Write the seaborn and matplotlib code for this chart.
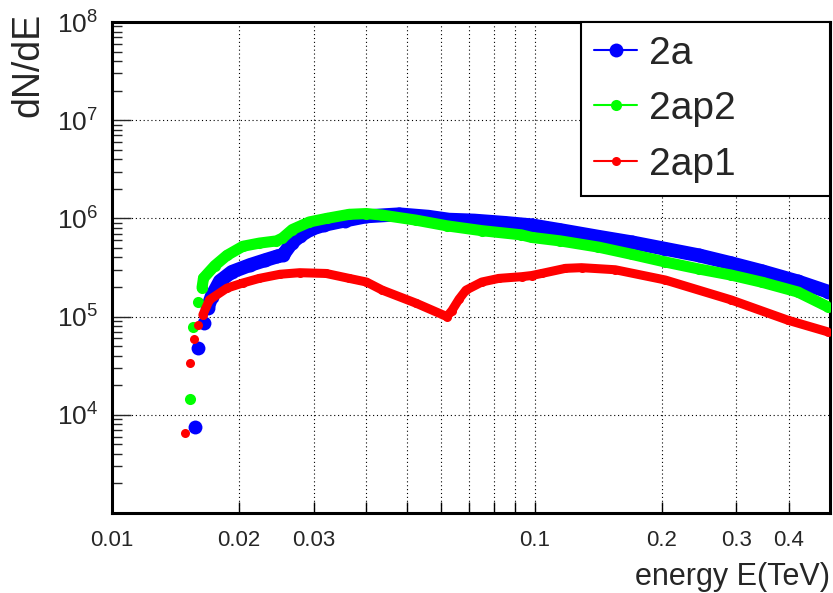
import matplotlib
matplotlib.use("Agg")
import matplotlib.pyplot as plt
import seaborn as sns
from matplotlib.lines import Line2D
from matplotlib.ticker import LogLocator, NullFormatter

# values (energy in TeV, dN/dE)
e_2a = [0.0157, 0.0160, 0.01648, 0.01684, 0.0172, 0.0180, 0.0192, 0.0212, 0.0230,
        0.0246, 0.0254, 0.0266, 0.0278, 0.0296, 0.0318, 0.0355, 0.0400, 0.0478,
        0.0560, 0.0627, 0.0720, 0.0850, 0.0984, 0.115, 0.1416, 0.170, 0.2037,
        0.245, 0.2915, 0.345, 0.4195, 0.4936]
n_2a = [7.5e3, 4.8e4, 8.6e4, 1.22e5, 1.6e5, 2.3e5, 2.85e5, 3.35e5, 3.75e5,
        4.1e5, 4.25e5, 5.6e5, 6.6e5, 7.8e5, 8.6e5, 9.5e5, 1.05e6, 1.10e6,
        1.04e6, 9.7e5, 9.5e5, 9.0e5, 8.5e5, 7.6e5, 6.5e5, 5.7e5, 4.9e5,
        4.2e5, 3.5e5, 2.9e5, 2.28e5, 1.8e5]

e_2ap2 = [0.01527, 0.01555, 0.0160, 0.01633, 0.01646, 0.0175, 0.0187, 0.0204, 0.0223,
          0.0245, 0.0253, 0.0267, 0.0293, 0.0322, 0.0364, 0.0400, 0.0436, 0.0524,
          0.0620, 0.0750, 0.0930, 0.0984, 0.115, 0.1416, 0.170, 0.2037, 0.245,
          0.2915, 0.345, 0.4195, 0.4936]
n_2ap2 = [1.45e4, 7.8e4, 1.41e5, 1.97e5, 2.47e5, 3.3e5, 4.2e5, 5.2e5, 5.6e5,
          5.9e5, 6.3e5, 7.7e5, 9.2e5, 1.0e6, 1.1e6, 1.12e6, 1.08e6, 9.6e5,
          8.4e5, 7.5e5, 6.8e5, 6.4e5, 5.9e5, 5.1e5, 4.3e5, 3.6e5, 3.05e5,
          2.65e5, 2.24e5, 1.78e5, 1.26e5]

e_2ap1 = [0.01486, 0.01527, 0.01563, 0.0160, 0.0164, 0.0170, 0.0187, 0.0204, 0.0223,
          0.0250, 0.0278, 0.0321, 0.0364, 0.0400, 0.0436, 0.0524, 0.0620, 0.0637,
          0.0662, 0.0688, 0.0750, 0.0823, 0.0932, 0.0984, 0.1039, 0.1183, 0.1291,
          0.1552, 0.2037, 0.2915, 0.3972, 0.4936]
n_2ap1 = [6.6e3, 3.4e4, 5.9e4, 8.2e4, 1.04e5, 1.48e5, 1.95e5, 2.2e5, 2.45e5,
          2.7e5, 2.8e5, 2.75e5, 2.45e5, 2.25e5, 1.86e5, 1.37e5, 1.0e5, 1.15e5,
          1.5e5, 1.86e5, 2.25e5, 2.45e5, 2.55e5, 2.62e5, 2.75e5, 3.1e5, 3.15e5,
          3.0e5, 2.36e5, 1.48e5, 9.2e4, 7.0e4]

x_major = [0.01, 0.02, 0.03, 0.1, 0.2, 0.3, 0.4]
x_major_labels = ["0.01", "0.02", "0.03", "0.1", "0.2", "0.3", "0.4"]
x_minor = [0.04, 0.05, 0.06, 0.07, 0.08, 0.09]
y_ticks = [1e4, 1e5, 1e6, 1e7, 1e8]
y_tick_labels = [r"$\mathregular{10^{%d}}$" % p for p in range(4, 9)]

sns.set_style("white")
plt.rcParams["font.family"] = ["Liberation Sans", "DejaVu Sans"]

fig = plt.figure(figsize=(8.33, 5.93), dpi=100)
ax = fig.add_axes([0.1345, 0.1349, 0.8619, 0.828])

# (label, x, y, colour, marker size pt, number of isolated first points, zorder)
series = [
    ("2a", e_2a, n_2a, "#0000ff", 10.0, 4, 2),
    ("2ap2", e_2ap2, n_2ap2, "#00ff00", 8.0, 4, 3),
    ("2ap1", e_2ap1, n_2ap1, "#ff0000", 6.5, 5, 4),
]

handles = []
for label, xs, ys, col, ms, n_iso, z in series:
    # dense run of markers drawn as a thick band
    sns.lineplot(x=xs[n_iso - 1:], y=ys[n_iso - 1:], ax=ax, color=col, linewidth=ms,
                 estimator=None, sort=False, solid_capstyle="round",
                 solid_joinstyle="round", zorder=z)
    sns.scatterplot(x=xs, y=ys, ax=ax, color=col, s=ms ** 2, linewidth=0, zorder=z)
    handles.append(Line2D([0], [0], color=col, lw=1.5, marker="o", markersize=ms,
                          markeredgewidth=0, label=label))

ax.set_xscale("log")
ax.set_yscale("log")
ax.set_xlim(0.01, 0.5)
ax.set_ylim(1e3, 1e8)

ax.set_xticks(x_major)
ax.set_xticklabels(x_major_labels, fontsize=16)
ax.set_xticks(x_minor, minor=True)
ax.xaxis.set_minor_formatter(NullFormatter())
ax.set_yticks(y_ticks)
ax.set_yticklabels(y_tick_labels, fontsize=19)
ax.yaxis.set_minor_locator(LogLocator(base=10, subs=range(2, 10), numticks=20))
ax.yaxis.set_minor_formatter(NullFormatter())

ax.tick_params(axis="x", which="both", direction="in", bottom=True, top=False,
               pad=12, width=1, color="black", length=8)
ax.tick_params(axis="y", which="major", direction="in", left=True, right=False,
               length=14, width=1, pad=10)
ax.tick_params(axis="y", which="minor", direction="in", left=True, right=False,
               length=7, width=1)

ax.grid(True, which="major", axis="both", color="black", lw=0.8, linestyle=(0, (1, 2.5)))
ax.grid(True, which="minor", axis="x", color="black", lw=0.8, linestyle=(0, (1, 2.5)))
ax.set_axisbelow(True)

for sp in ax.spines.values():
    sp.set_visible(True)
    sp.set_color("black")
    sp.set_linewidth(2.2)

ax.set_xlabel("energy E(TeV)", fontsize=22, loc="right", labelpad=8)
ax.set_ylabel("")
fig.text(0.034, 0.978, "dN/dE", rotation=90, ha="center", va="top", fontsize=27)

leg = ax.legend(handles=handles, loc="upper left",
                bbox_to_anchor=(0.653, 0.656, 0.347, 0.344), mode="expand",
                borderaxespad=0, fontsize=28, frameon=True, fancybox=False,
                framealpha=1, edgecolor="black", handlelength=1.1,
                handletextpad=0.3, labelspacing=0.5, borderpad=0.35)
leg.get_frame().set_linewidth(1.5)
leg.set_zorder(10)

fig.savefig("out.png", dpi=100)
